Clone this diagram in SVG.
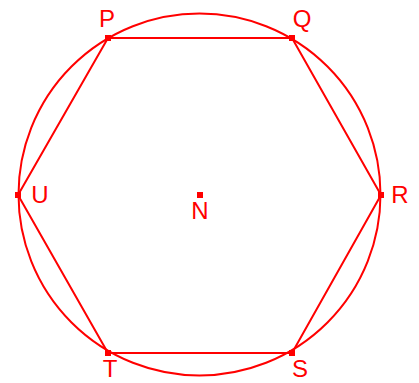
<svg xmlns="http://www.w3.org/2000/svg" width="419" height="383" viewBox="0 0 419 383">
<style>
.ln{fill:none;stroke:#f00;stroke-width:2}
.pt{fill:#f00}
.lb{fill:#f00;font-family:"Liberation Sans",Arial,sans-serif;font-size:24px;text-anchor:middle}
</style>
<rect width="419" height="383" fill="#fff"/>
<g id="connectors">
<circle class="ln" cx="199.5" cy="194.5" r="181"/>
<polygon class="ln" points="108,38 292,38 381,195 292,353 108,353 18,195"/>
</g>
<g id="P"><rect class="pt" x="105" y="35" width="6" height="6"/><text class="lb" x="107" y="27">P</text></g>
<g id="Q"><rect class="pt" x="289" y="35" width="6" height="6"/><text class="lb" x="302" y="27">Q</text></g>
<g id="R"><rect class="pt" x="378" y="192" width="6" height="6"/><text class="lb" x="400" y="203">R</text></g>
<g id="S"><rect class="pt" x="289" y="350" width="6" height="6"/><text class="lb" x="300" y="377">S</text></g>
<g id="T"><rect class="pt" x="105" y="350" width="6" height="6"/><text class="lb" x="110" y="377">T</text></g>
<g id="U"><rect class="pt" x="15" y="192" width="6" height="6"/><text class="lb" x="40" y="203">U</text></g>
<g id="N"><rect class="pt" x="197" y="192" width="6" height="6"/><text class="lb" x="200" y="219">N</text></g>
</svg>
